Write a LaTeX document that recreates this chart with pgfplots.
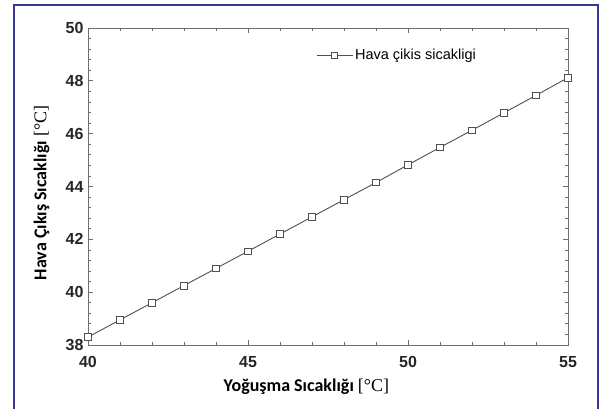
\documentclass[border=0pt]{standalone}
\usepackage{fontspec}
\setmainfont{Liberation Sans}
\newfontfamily\carlito{Carlito}
\newfontfamily\serifc{Liberation Serif}
\usepackage{pgfplots}
\pgfplotsset{compat=1.18}
\definecolor{framecol}{RGB}{55,55,150}
\definecolor{axgray}{RGB}{110,110,110}
\definecolor{lngray}{RGB}{80,80,80}
\begin{document}
\begin{tikzpicture}
\begin{axis}[
  at={(0pt,0pt)}, anchor=south west,
  scale only axis, width=480pt, height=317pt,
  xmin=40, xmax=55, ymin=38, ymax=50,
  xtick={40,45,50,55}, ytick={38,40,...,50},
  minor x tick num=4, minor y tick num=4,
  tick align=inside,
  major tick length=5pt, minor tick length=3pt,
  axis line style={axgray, line width=0.9pt},
  every tick/.style={axgray, line width=0.8pt},
  /pgf/number format/assume math mode=true,
  ticklabel style={font=\bfseries\fontsize{16}{16}\selectfont, text=black!85},
  xticklabel style={yshift=-8pt},
  yticklabel style={xshift=-1pt},
  xlabel={\carlito\bfseries Yoğuşma Sıcaklığı {\mdseries\serifc [°C]}},
  ylabel={\carlito\bfseries Hava Çıkış Sıcaklığı {\mdseries\serifc [°C]}},
  label style={font=\fontsize{18}{18}\selectfont},
  xlabel style={at={(axis description cs:0.455,0)}, anchor=north, yshift=-30pt},
  ylabel style={at={(axis description cs:0,0.48)}, anchor=south, yshift=35pt},
  legend style={draw=none, fill=none, at={(228pt,290pt)}, anchor=west,
    font=\fontsize{14.5}{14.5}\selectfont, inner sep=0pt},
  legend cell align=left,
  legend image code/.code={
    \draw[lngray, line width=0.9pt] (0pt,0pt) -- (36pt,0pt);
    \draw[lngray, fill=white, line width=0.7pt] (14.5pt,-3pt) rectangle (20.5pt,3pt);
  },
  clip=true,
]
\addplot[lngray, line width=0.9pt, mark=square*, mark size=3.3pt,
  mark options={fill=white, draw=lngray, line width=0.7pt}]
coordinates {
(40,38.30) (41,38.95) (42,39.60) (43,40.25) (44,40.90) (45,41.55)
(46,42.20) (47,42.85) (48,43.50) (49,44.15) (50,44.82) (51,45.48)
(52,46.13) (53,46.79) (54,47.45) (55,48.12)
};
\addlegendentry{Hava çikis sicakligi}
\end{axis}
\draw[framecol, line width=2pt] (-74pt,-80pt) -- (-74pt,340pt) -- (510pt,340pt) -- (510pt,-80pt);
\pgfresetboundingbox
\useasboundingbox (-88pt,-63pt) rectangle (516pt,345pt);
\end{tikzpicture}
\end{document}
